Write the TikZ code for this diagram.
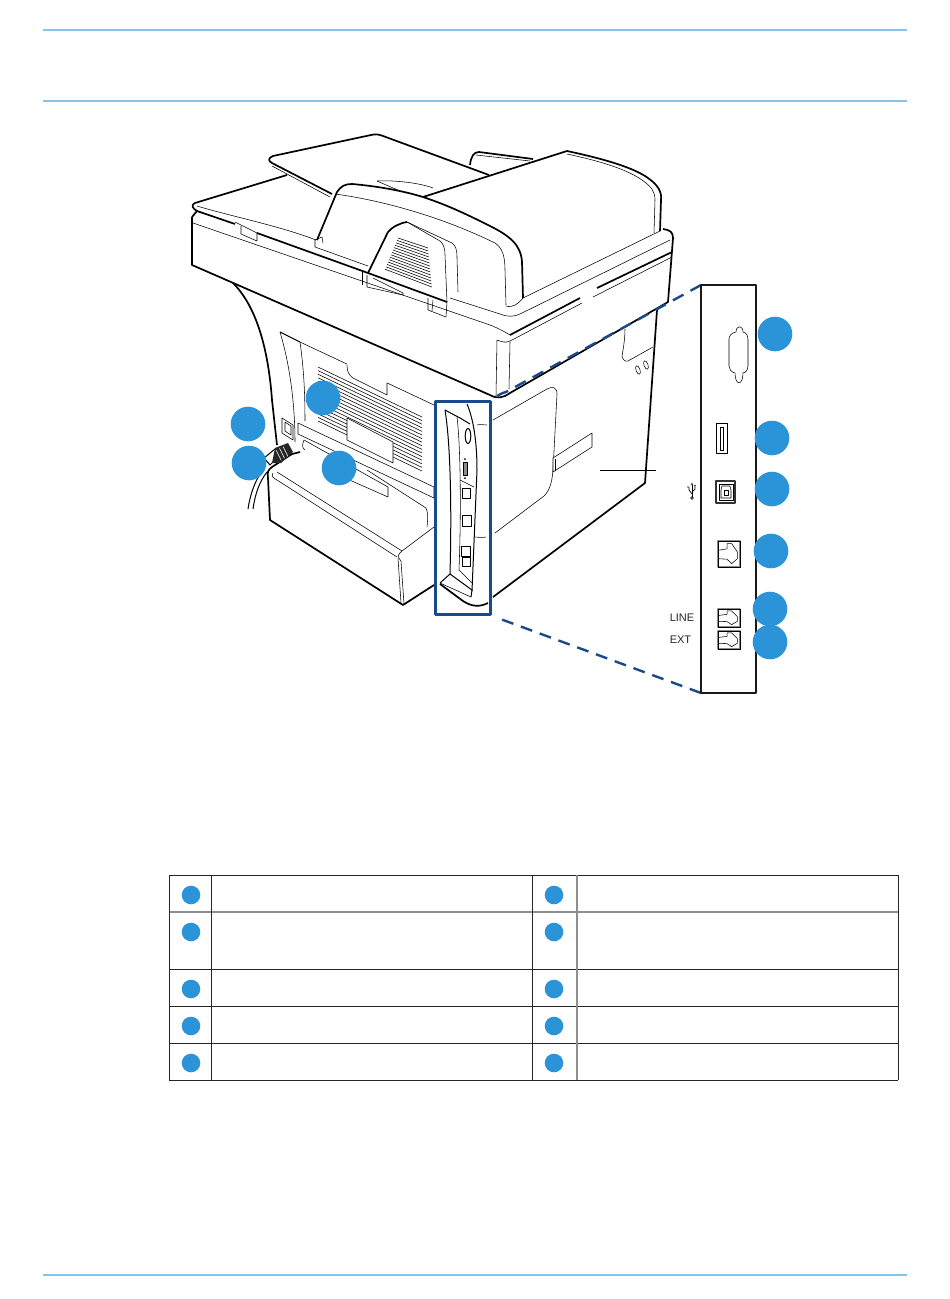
\documentclass[tikz,border=0pt]{standalone}
\usepackage{fontspec}
\setmainfont{Liberation Sans}
\definecolor{ruleBlue}{HTML}{86C5E5}
\definecolor{calloutBlue}{HTML}{2B93D8}
\definecolor{frameBlue}{HTML}{1B4A8C}
\definecolor{cellGrey}{HTML}{8E8E8E}
\newcommand{\drawTrays}{%%
  %% The paper support and the upper tray.
  \draw[thickStyle] (470,165) .. controls (471,156) and (474,152) .. (479,152) -- (533,159);
  \draw[thinStyle] (476,155) -- (530,161);
  \draw[thickStyle,fill=white] (489,175) -- (383,136) .. controls (378,134) and (375,134) .. (371,135)
    -- (273,156) .. controls (268,158) and (268,161) .. (272,163) -- (332,194);
  \draw[thinStyle] (272,166) -- (330,197);
  \draw[thinStyle] (377,181) .. controls (395,180) and (420,183) .. (433,188);
  \draw[thinStyle] (377,181) -- (400,191);
  %% The platen.
  \draw[thickStyle] (287,175) -- (195,203) .. controls (191,205) and (192,208) .. (197,211) -- (235,224);
  \draw[thinStyle] (197,206) .. controls (230,216) and (280,226) .. (316,240);
  \draw[thinStyle] (235,222) -- (257,233) -- (257,241) -- (241,234) -- (241,226);
}
\newcommand{\drawFeeder}{%%
  %% The feeder cover.
  \fill[white] (317,240) -- (337,192) .. controls (341,186) and (345,184) .. (352,184)
    .. controls (375,186) and (400,190) .. (423,197) -- (567,151) -- (661,200) -- (660,231) -- (523,298)
    -- (450,298) -- (368,273) -- cycle;
  \draw[thickStyle] (423,197) -- (567,151) .. controls (590,156) and (630,165) .. (648,178)
    .. controls (658,185) and (662,192) .. (661,200) -- (660,231);
  \draw[thickStyle] (317,240) -- (337,192) .. controls (341,186) and (345,184) .. (352,184)
    .. controls (375,186) and (400,190) .. (423,197) .. controls (450,206) and (470,216) .. (490,226)
    .. controls (510,236) and (521,245) .. (522,262) -- (523,298);
  \draw[thinStyle] (523,298) -- (660,231);
  \draw[thinStyle] (567,154) .. controls (595,160) and (625,168) .. (642,180) .. controls (652,187) and (655,192) .. (655,200) -- (654,233);
  \draw[thinStyle] (335,194) .. controls (380,200) and (440,216) .. (495,243) .. controls (503,248) and (505,258) .. (505,270) -- (506,305);
}
\newcommand{\drawHood}{%%
  %% The hood with its vent.
  \fill[white] (368,273) -- (388,232) .. controls (392,227) and (400,223) .. (407,222)
    -- (440,241) .. controls (444,244) and (445,250) .. (445,255) -- (447,302) -- cycle;
  \draw[thickStyle] (368,273) -- (388,232) .. controls (392,227) and (400,223) .. (407,222);
  \draw[thickStyle] (368,273) -- (447,302);
  \draw[thinStyle] (407,222) -- (440,241) .. controls (444,244) and (445,250) .. (445,255) -- (447,302);
  \draw[thinStyle] (407,222) -- (452,243) .. controls (456,246) and (457,250) .. (457,258) -- (458,292);
  \foreach \i in {0,...,13}{
    \draw[thinStyle] ({398-\i},{238+2.4*\i}) -- ({428+0.3*\i},{248+3*\i});
  };
}
\newcommand{\drawScanner}{%%
  %% The scanner block.
  \draw[thickStyle] (192,217) -- (192,265) -- (490,395) .. controls (497,399) and (503,398) .. (510,393)
    -- (668,302) -- (673,238) .. controls (673,232) and (670,230) .. (663,229);
  \draw[thickStyle] (257,233) -- (368,273);
  \draw[thickStyle] (192,217) -- (197,211);
  \draw[thinStyle] (193,223) -- (490,325) .. controls (500,329) and (505,332) .. (510,335);
  \draw[thinStyle] (450,298) -- (500,314) .. controls (508,317) and (513,317) .. (520,314) -- (670,240);
  \draw[thinStyle] (506,306) .. controls (513,308) and (518,304) .. (523,298);
  \draw[thickStyle] (510,335) -- (580,298);
  \draw[thickStyle] (597,288) -- (672,252);
  \draw[thinStyle] (514,339) -- (582,303);
  \draw[thinStyle] (593,297) -- (672,257);
  \draw[thinStyle] (497,340) .. controls (502,342) and (506,343) .. (510,341) -- (514,339);
  \draw[thinStyle] (497,340) -- (496,396);
  \draw[thinStyle] (510,342) -- (509,389);
  %% The small tabs.
  \draw[thinStyle] (315,240) -- (315,247) -- (368,266);
  \draw[thinStyle] (315,240) -- (322,237) -- (323,243);
  \draw[thinStyle] (362,272) -- (362,285);
  \draw[thinStyle] (367,275) -- (367,287) -- (403,295) -- (403,293);
  \draw[thinStyle] (373,278) -- (403,293);
  \draw[thinStyle] (428,298) -- (428,310) -- (446,317) -- (447,302);
  \draw[thinStyle] (433,300) -- (432,311);
}
\newcommand{\drawBody}{%%
  %% The right side of the body.
  \draw[thickStyle] (657,310) -- (645,483) -- (493,597);
  \draw[thinStyle] (625,329) .. controls (625,340) and (623,350) .. (622,356) .. controls (623,360) and (625,362) .. (628,361) -- (653,347);
  \draw[thinStyle,rotate around={20:(638,370)}] (638,370) ellipse (2 and 4.5);
  \draw[thinStyle,rotate around={20:(646,365)}] (646,365) ellipse (2 and 4.5);
  \draw[thinStyle] (493,420) -- (547,389) .. controls (552,386) and (557,387) .. (557,394) -- (553,470)
    .. controls (552,482) and (550,490) .. (544,496) -- (495,533);
  \draw[thinStyle,fill=white] (553,458) -- (592,433) -- (592,447) -- (553,472) -- cycle;
  \draw[thinStyle] (555,459) -- (555,471);
  \draw[thinStyle] (600,470) -- (656,470);
  %% The left foot and the rear panel.
  \draw[thickStyle] (233,283) .. controls (255,305) and (268,345) .. (272,400) -- (277,445);
  \draw[mediumStyle] (280,332) -- (300,342);
  \draw[thinStyle] (280,332) .. controls (290,365) and (295,405) .. (295,442);
  \draw[thinStyle] (300,342) .. controls (304,370) and (305,395) .. (305,421);
  \draw[thinStyle] (300,342) -- (434,405);
  \foreach \i in {0,...,15}{
    \draw[thinStyle] (318,{367+3.6*\i}) -- (422,{417+3.6*\i});
  };
  \fill[white] (347,362) -- (387,381) -- (387,395) -- (353,378) -- (347,370) -- cycle;
  \draw[thinStyle] (347,365) .. controls (347,372) and (349,375) .. (353,378) -- (387,395) -- (387,383);
  \draw[thinStyle,fill=white] (347,418) -- (393,442) -- (393,463) -- (347,440) -- cycle;
  \draw[thinStyle,fill=white] (298,423) -- (434,487) -- (434,498) -- (298,434) -- cycle;
  \draw[thinStyle] (304,440) -- (388,487) -- (388,497) -- (345,478);
  \draw[thinStyle] (304,440) .. controls (302,445) and (302,448) .. (305,450);
  \draw[thinStyle] (367,470) -- (426,508) .. controls (428,512) and (428,518) .. (427,527);
  %% The duplex cover.
  \fill[white] (300,452) -- (270,468) -- (270,520) -- (403,605) -- (434,585) -- (434,527) -- (402,551) -- (285,472) -- cycle;
  \draw[thickStyle] (300,452) -- (292,454) -- (272,467) .. controls (268,470) and (267,472) .. (268,478) -- (270,520)
    -- (403,605) -- (434,585);
  \draw[thinStyle] (402,551) -- (434,527);
  \draw[thinStyle] (277,472) -- (402,551);
  \draw[thinStyle] (273,473) .. controls (271,476) and (273,478) .. (277,480) -- (397,557);
  \draw[thinStyle] (402,551) .. controls (398,554) and (397,557) .. (401,561) -- (404,604);
  \draw[thinStyle] (398,558) -- (401,603);
  %% The power socket and the cord.
  \draw[thinStyle] (282,418) -- (293,425) -- (293,440) -- (282,433) -- cycle;
  \draw[thinStyle] (285,422) -- (291,426) -- (291,435) -- (285,431) -- cycle;
  \draw[mediumStyle] (264,458) -- (275,449) -- (280,455) -- (270,465) -- cycle;
  \fill[cordGrey] (275,448) -- (288,443) -- (293,452) -- (281,463) -- (272,463) -- cycle;
  \foreach \dx in {0,3.5,7}{
    \draw[white,line width=0.5] ({276+\dx},{450-\dx/2}) -- ({281+\dx},{460-\dx/2});
  };
  \draw[mediumStyle] (263,470) .. controls (255,480) and (250,495) .. (248,509);
  \draw[mediumStyle] (267,472) .. controls (259,482) and (255,495) .. (253,509);
}
\newcommand{\drawStrip}{%%
  %% The ports as they sit on the rear of the machine.
  \fill[white] (frameA) rectangle (frameB);
  \draw[mediumStyle] (445,410) .. controls (450,440) and (452,500) .. (450,574);
  \draw[mediumStyle] (445,410) -- (460,418) -- (470,424);
  \draw[thinStyle] (457,417) .. controls (461,450) and (461,520) .. (459,570) -- (472,583);
  \draw[mediumStyle] (467,404) .. controls (473,418) and (477,440) .. (477,470) -- (472,591);
  \draw[mediumStyle] (440,583) -- (450,574) -- (472,590) -- (471,597);
  \draw[thickStyle] (440,584) -- (463,601) .. controls (472,607) and (480,607) .. (488,603);
  \draw[thinStyle] (440,583) -- (471,597);
  \draw[thinStyle] (477,425) .. controls (480,424) and (484,425) .. (487,425);
  \draw[thinStyle] (474,537) .. controls (478,537) and (482,538) .. (486,537);
  \draw[mediumStyle] (468,436) ellipse (2.8 and 7.5);
  \draw[thinStyle,fill=black!45] (463,462) rectangle (467,475);
  \fill (465,459) circle (1);
  \fill (465,478) circle (1);
  \draw[thinStyle] (460,480) -- (474,487);
  \draw[mediumStyle] (462,488) rectangle (470,498);
  \draw[mediumStyle] (462,515) rectangle (471,526);
  \draw[mediumStyle] (461,546) rectangle (470,556);
  \draw[mediumStyle] (462,557) rectangle (470,566);
}
\newcommand{\jackSocket}[4]{%%
  %% A telephone style socket: left, top, right, bottom.
  \pgfmathsetmacro{\jackW}{#3-#1}
  \pgfmathsetmacro{\jackH}{#4-#2}
  \draw[jackStyle] (#1,#2) rectangle (#3,#4);
  \draw[thinStyle] (#1,#2) rectangle (#3,#4);
  \draw[thinStyle] (#1,{#2+0.36*\jackH}) -- ({#1+0.41*\jackW},{#2+0.3*\jackH})
    -- ({#1+0.41*\jackW},{#2+0.1*\jackH}) -- ({#1+0.62*\jackW},{#2+0.1*\jackH})
    -- ({#1+0.88*\jackW},{#2+0.42*\jackH}) -- ({#1+0.88*\jackW},{#2+0.68*\jackH})
    -- ({#1+0.62*\jackW},{#2+0.87*\jackH}) -- ({#1+0.41*\jackW},{#2+0.7*\jackH}) -- (#1,{#2+0.68*\jackH});
}
\newcommand{\drawDetail}{%%
  %% The enlarged port panel.
  \draw[panelStyle] (panelA) rectangle (panelB);
  \draw[thinStyle] (736,332) .. controls (736,325) and (743,325) .. (743,332) .. controls (747,333) and (748,336) .. (748,339)
    -- (748,366) .. controls (748,369) and (747,372) .. (743,373) .. controls (743,386) and (735,386) .. (735,373)
    .. controls (731,372) and (729,369) .. (729,366) -- (729,339) .. controls (729,336) and (731,333) .. (736,332);
  \draw[thinStyle,line width=0.7] (716,423) rectangle (727,453);
  \draw[thinStyle] (720,427) rectangle (723,450);
  \draw[line width=1.4,black!80] (716,481) rectangle (735,503);
  \draw[thinStyle] (719,484) rectangle (733,500);
  \draw[thinStyle] (722,486) -- (730,486) -- (731,490) -- (731,498) -- (721,498) -- (721,490) -- cycle;
  \draw[thinStyle] (724,490) rectangle (728,495);
  \jackSocket{718}{541}{740}{567}
  \jackSocket{718}{609}{740}{627}
  \jackSocket{718}{631}{740}{649}
  %% The usb mark.
  \draw[thinStyle,line width=0.7] (692,498) circle (1.3);
  \draw[thinStyle,line width=0.7] (692,497) -- (692,484);
  \draw[thinStyle,line width=0.7] (692,494) -- (689,490) -- (689,487);
  \draw[thinStyle,line width=0.7] (692,492) -- (695,489) -- (695,486);
  \fill[black!70] (690.7,485) -- (693.3,485) -- (692,482.5) -- cycle;
  \fill[black!70] (688,487) circle (0.9);
  \fill[black!70] (694.2,484.8) rectangle (695.8,486.4);
  \node[portLabelStyle] (lineLabel) at (682,617.5) {LINE};
  \node[portLabelStyle] (extLabel) at (680.5,639.5) {EXT};
}
\newcommand{\drawCalloutTable}{%%
  %% The empty key below the drawing.
  \foreach \y in {875,969,1006,1043,1080}{
    \draw[cellStyle] (169,\y) -- (898,\y);
  };
  \draw[cellGreyStyle] (169,912) -- (898,912);
  \foreach \x in {169,211,532,898}{
    \draw[cellStyle] (\x,875) -- (\x,1080);
  };
  \draw[cellGreyStyle] (577,875) -- (577,1080);
  \foreach \y/\name in {895/a,932/b,989/c,1026/d,1063/e}{
    \node[keyDotStyle] (keyLeft\name) at (191,\y) {};
    \node[keyDotStyle] (keyRight\name) at (554,\y) {};
  };
}

\begin{document}
\begin{tikzpicture}[%%
  x=1pt,y=-1pt,%%
  line join=round,%%
  ruleStyle/.style={ruleBlue,line width=1.1},%%
  thickStyle/.style={black,line width=1.7},%%
  mediumStyle/.style={black,line width=1},%%
  thinStyle/.style={black,line width=0.55},%%
  jackStyle/.style={black!45,line width=1.5},%%
  panelStyle/.style={black!90,line width=2},%%
  frameStyle/.style={frameBlue,line width=2.6},%%
  zoomStyle/.style={frameBlue,line width=2.4,dash pattern=on 12pt off 8pt},%%
  cellStyle/.style={black!85,line width=0.8},%%
  cellGreyStyle/.style={cellGrey,line width=1.1},%%
  cordGrey/.style={black!85},%%
  calloutStyle/.style={circle,inner sep=0pt,minimum size=34.6pt,fill=calloutBlue},%%
  keyDotStyle/.style={circle,inner sep=0pt,minimum size=18.6pt,fill=calloutBlue},%%
  portLabelStyle/.style={inner sep=0pt,font=\fontsize{11}{13}\selectfont,text=black!85}
]
%%
%%
\useasboundingbox (0,0) rectangle (950,1299);
\fill[white] (0,0) rectangle (950,1299);
\coordinate (frameA) at (435.5,401.5);
\coordinate (frameB) at (490.5,614.5);
\coordinate (panelA) at (701,285);
\coordinate (panelB) at (756,693);
\coordinate (zoomTop) at (495,398);
\coordinate (zoomBottom) at (495,617);
%%
%% The page rules.
\foreach \y in {30,101,1275}{
  \draw[ruleStyle] (43,\y) -- (907,\y);
};
%%
%% The machine.
\drawTrays
\drawFeeder
\drawScanner
\drawHood
\drawBody
\drawStrip
\draw[frameStyle] (frameA) rectangle (frameB);
%%
%% The enlarged view.
\draw[zoomStyle] (panelA) -- (506,392) .. controls (502,393) and (498,395) .. (zoomTop);
\draw[zoomStyle] (panelA |- panelB) -- (zoomBottom);
\drawDetail
%%
%% The callouts.
\node[calloutStyle] (calloutPower) at (248,424) {};
\node[calloutStyle] (calloutCord) at (249,463) {};
\node[calloutStyle] (calloutRear) at (323,398) {};
\node[calloutStyle] (calloutCover) at (339,468) {};
\node[calloutStyle] (calloutSerial) at (775,334) {};
\node[calloutStyle] (calloutHost) at (772,438) {};
\node[calloutStyle] (calloutDevice) at (772,489) {};
\node[calloutStyle] (calloutNetwork) at (771,551) {};
\node[calloutStyle] (calloutLine) at (770,609) {};
\node[calloutStyle] (calloutExt) at (770,642) {};
%%
%% The key.
\drawCalloutTable
\end{tikzpicture}
\end{document}
